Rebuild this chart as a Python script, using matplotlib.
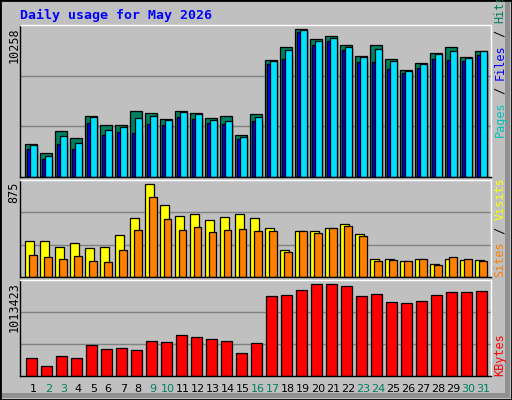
import matplotlib
matplotlib.use('Agg')
from matplotlib import pyplot as plt
from matplotlib.patches import Rectangle

days = list(range(1, 32))
weekend = [2, 3, 9, 10, 16, 17, 23, 24, 30, 31]

hits = [2320, 1694, 3225, 2738, 4269, 3642, 3642, 4617, 4478, 4060, 4617, 4478, 4130, 4269, 2946, 4408,
        8166, 9071, 10258, 9558, 9767, 9210, 8445, 9210, 8236, 7470, 7958, 8654, 9071, 8375, 8793]
files = [2250, 1485, 2877, 2390, 4199, 3294, 3503, 4130, 4269, 3990, 4547, 4408, 3990, 3921, 2807, 4199,
         8097, 8862, 10185, 9419, 9628, 9071, 8375, 8932, 8097, 7401, 7888, 8584, 8793, 8306, 8793]
pages = [1972, 1276, 2320, 1972, 3782, 2946, 3155, 3086, 3712, 3642, 4199, 4060, 3782, 3712, 2668, 3921,
         7888, 8236, 10046, 9210, 9419, 8862, 8027, 8027, 7540, 7262, 7610, 8236, 8166, 8097, 8514]
visits = [344, 344, 287, 316, 269, 287, 392, 553, 875, 676, 572, 591, 534, 562, 591, 553,
          458, 259, 430, 430, 458, 496, 401, 174, 174, 155, 174, 126, 174, 164, 164]
sites = [212, 193, 174, 202, 155, 145, 259, 439, 752, 543, 439, 468, 420, 439, 449, 430,
         430, 240, 430, 411, 458, 477, 382, 155, 164, 155, 174, 117, 193, 174, 155]
kbytes = [203000, 115000, 226000, 203000, 337000, 303000, 314000, 292000, 381000, 370000, 448000,
          425000, 403000, 381000, 259000, 359000, 880000, 891000, 947000, 1013423, 1013423, 991000,
          880000, 902000, 814000, 803000, 825000, 891000, 925000, 925000, 936000]

W, H = 512, 400
BG = '#C0C0C0'
fig = plt.figure(figsize=(W / 100, H / 100), dpi=100)
fig.patch.set_facecolor(BG)
# outer frame with darker bevel right/bottom
fig.patches.append(Rectangle((0, 0), 1, 1, transform=fig.transFigure, fill=False, edgecolor='black', lw=2))
fig.patches.append(Rectangle((505 / W, 2 / H), 5 / W, 396 / H, transform=fig.transFigure, color='#909090', lw=0))
fig.patches.append(Rectangle((2 / W, 2 / H), 508 / W, 5 / H, transform=fig.transFigure, color='#909090', lw=0))

mono = 'DejaVu Sans Mono'
fig.text(20 / W, 1 - 15 / H, 'Daily usage for May 2026', color='#0000FF', fontsize=9.5,
         fontweight='bold', family=mono, va='center', ha='left')


def panel(y0, y1, top):
    ax = fig.add_axes([20 / W, 1 - y1 / H, 471 / W, (y1 - y0) / H])
    ax.set_facecolor(BG)
    ax.set_xlim(-0.33, 31.07)
    ax.set_ylim(0, top)
    ax.set_xticks([])
    ax.set_yticks([])
    for t in (top / 3, 2 * top / 3):
        ax.axhline(t, color='#808080', lw=1, zorder=0)
    for s in ax.spines.values():
        s.set_color('black')
        s.set_linewidth(1)
    ax.spines['right'].set_color('white')
    ax.spines['top'].set_color('white')
    return ax


idx = list(range(31))
kw = dict(align='edge', edgecolor='black', linewidth=0.9)

ax1 = panel(25, 177, 10258 * 1.03)
ax1.bar(idx, hits, width=0.78, color='#008060', **kw)
ax1.bar([i + 0.11 for i in idx], pages, width=0.67, color='#0000FF', **kw)
ax1.bar([i + 0.31 for i in idx], files, width=0.47, color='#00E0FF', **kw)

ax2 = panel(180, 277, 875 * 1.045)
ax2.bar(idx, visits, width=0.58, color='#FFFF00', **kw)
ax2.bar([i + 0.24 for i in idx], sites, width=0.53, color='#FF8000', **kw)

ax3 = panel(280, 376, 1013423 * 1.045)
ax3.bar([i + 0.07 for i in idx], kbytes, width=0.71, color='#FF0000', **kw)

# max labels on the left
for y, txt in ((25, '10258'), (180, '875'), (280, '1013423')):
    fig.text(14 / W, 1 - (y + 2) / H, txt, rotation=90, fontsize=8.5, family=mono,
             ha='center', va='top', color='black')

renderer = fig.canvas.get_renderer()


# right side legends, parts from bottom to top
def rlabel(y, parts):
    yy = y
    for txt, col in parts:
        t = fig.text(500 / W, 1 - yy / H, txt, rotation=90, fontsize=8.5, family=mono,
                     ha='center', va='bottom', color=col)
        yy -= t.get_window_extent(renderer).height


rlabel(137, [('Pages', '#00C0C0'), (' / ', '#000000'), ('Files', '#0000FF'), (' / ', '#000000'), ('Hits', '#008060')])
rlabel(277, [('Sites', '#FF8000'), (' / ', '#000000'), ('Visits', '#FFFF00')])
rlabel(376, [('KBytes', '#FF0000')])

for i, d in enumerate(days):
    col = '#008060' if d in weekend else 'black'
    fig.text((20 + (i + 0.33 + 0.55) * 15.0) / W, 1 - 389 / H, str(d), fontsize=8, family='DejaVu Sans',
             ha='center', va='center', color=col)

fig.savefig('out.png', dpi=100, facecolor=BG)
